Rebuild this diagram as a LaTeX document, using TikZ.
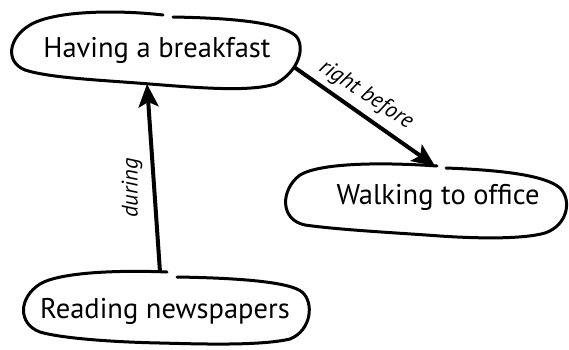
\documentclass[tikz,border=0pt]{standalone}
\usepackage{fontspec}
\setmainfont{PT Sans}
\usetikzlibrary{arrows.meta}
\begin{document}
\begin{tikzpicture}[x=1pt,y=-1pt,
  blob/.style={line width=3pt,line cap=round,line join=round},
  link/.style={line width=4pt,-{Stealth[length=23pt,width=20pt,inset=5pt]}},
  concept/.style={font=\fontsize{28.5}{30}\selectfont,inner sep=0pt},
  rel/.style={font=\fontsize{22.5}{24}\selectfont\itshape,inner sep=0pt}]
\useasboundingbox (0,0) rectangle (569,349);

% concept texts
\node[concept] (have) at (157,50) {Having a breakfast};
\node[concept] (walk) at (438,197) {Walking to office};
\node[concept] (read) at (165,311) {Reading newspapers};

% hand-drawn outlines, each open at the top
\draw[blob] (173,17) .. controls (230,18) and (280,22) .. (296,36)
  .. controls (306,48) and (298,72) .. (275,84)
  .. controls (250,92) and (200,88) .. (150,84)
  .. controls (100,80) and (50,78) .. (25,70)
  .. controls (5,62) and (8,38) .. (30,25)
  .. controls (55,10) and (120,10) .. (163,15);
\draw[blob] (446,168) .. controls (500,170) and (545,175) .. (560,188)
  .. controls (572,200) and (568,225) .. (545,233)
  .. controls (520,240) and (470,238) .. (440,236)
  .. controls (400,233) and (340,230) .. (305,225)
  .. controls (280,220) and (280,190) .. (300,175)
  .. controls (320,163) and (380,162) .. (437,166);
\draw[blob] (177,277) .. controls (240,278) and (290,282) .. (302,292)
  .. controls (314,302) and (312,330) .. (290,339)
  .. controls (260,346) and (200,344) .. (160,343)
  .. controls (110,342) and (60,338) .. (40,332)
  .. controls (18,324) and (18,298) .. (40,284)
  .. controls (60,272) and (120,270) .. (167,272);

% connector ends on the outlines
\coordinate (haveTop) at (147,84);
\coordinate (haveRight) at (294,67);
\coordinate (walkTop) at (435,166);
\coordinate (readTop) at (160,272);

\draw[link] (readTop) -- (haveTop);
\draw[link] (haveRight) -- (walkTop);

\node[rel,rotate=90] (during) at (132,188) {during};
\node[rel,rotate=-33] (before) at (366,95) {right before};
\end{tikzpicture}
\end{document}
